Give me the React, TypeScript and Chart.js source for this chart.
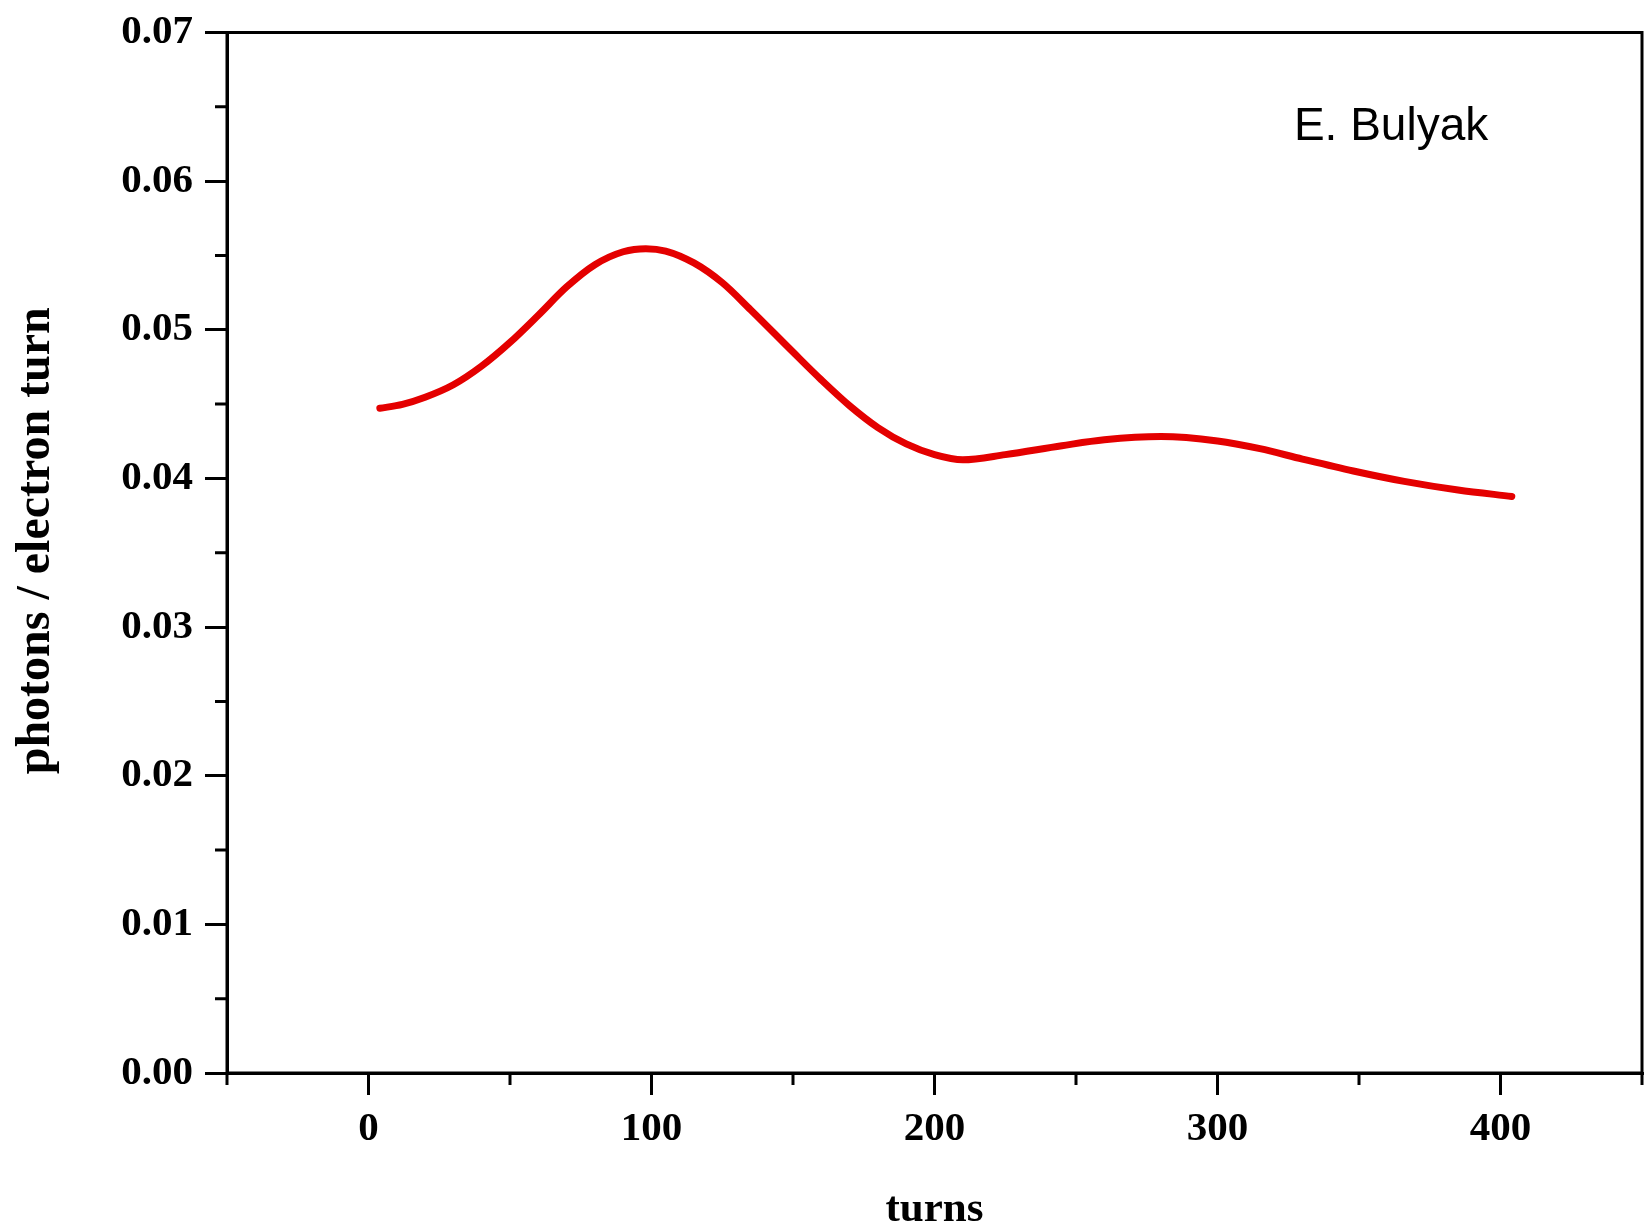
import React, { useEffect, useRef } from 'react';
import { Chart, registerables } from 'chart.js';

Chart.register(...registerables);

const turns = [4, 12, 20, 30, 40, 50, 60, 70, 80, 90, 98, 105, 115, 125, 135, 150, 160, 170, 180, 190, 200, 210, 225, 245, 260, 280, 300, 315, 330, 348, 366, 385, 404];
const photons = [0.04472, 0.04498, 0.04546, 0.0463, 0.04756, 0.04915, 0.05098, 0.05288, 0.05438, 0.05525, 0.05546, 0.0553, 0.0545, 0.05317, 0.05135, 0.0485, 0.04663, 0.04489, 0.04342, 0.04232, 0.0416, 0.04125, 0.0416, 0.0422, 0.0426, 0.04282, 0.04252, 0.042, 0.0413, 0.0405, 0.0398, 0.03922, 0.03879];

const xMajorTicks = [0, 100, 200, 300, 400];
const xMinorTicks = [-50, 50, 150, 250, 350, 450];
const yMajorTicks = [0, 0.01, 0.02, 0.03, 0.04, 0.05, 0.06, 0.07];
const yMinorTicks = [0.005, 0.015, 0.025, 0.035, 0.045, 0.055, 0.065];

const xTitle = 'turns';
const yTitle = '  photons / electron turn';
const annotationText = 'E. Bulyak';
const annotationX = 327;
const annotationY = 0.0636;

const SERIF = '"Liberation Serif", "DejaVu Serif", serif';

const framePlugin = {
  id: 'frame',
  afterDraw(chart: any) {
    const { ctx, chartArea: a, scales } = chart;
    ctx.save();
    ctx.strokeStyle = '#000';
    ctx.lineWidth = 3;
    ctx.strokeRect(a.left, a.top, a.right - a.left, a.bottom - a.top);
    ctx.beginPath();
    xMinorTicks.forEach((v) => {
      const px = scales.x.getPixelForValue(v);
      ctx.moveTo(px, a.bottom);
      ctx.lineTo(px, a.bottom + 12);
    });
    yMinorTicks.forEach((v) => {
      const py = scales.y.getPixelForValue(v);
      ctx.moveTo(a.left, py);
      ctx.lineTo(a.left - 12, py);
    });
    ctx.stroke();
    ctx.font = '46px "Liberation Sans", Arial, sans-serif';
    ctx.fillStyle = '#000';
    ctx.textAlign = 'left';
    ctx.textBaseline = 'middle';
    ctx.fillText(annotationText, scales.x.getPixelForValue(annotationX), scales.y.getPixelForValue(annotationY));
    ctx.restore();
  },
};

export default function App() {
  const canvasRef = useRef<HTMLCanvasElement | null>(null);

  useEffect(() => {
    if (!canvasRef.current) return;
    const chart = new Chart(canvasRef.current, {
      type: 'line',
      data: {
        datasets: [
          {
            data: turns.map((t, i) => ({ x: t, y: photons[i] })),
            borderColor: 'rgb(228,0,0)',
            borderWidth: 7,
            pointRadius: 0,
            cubicInterpolationMode: 'monotone',
            borderCapStyle: 'round',
            borderJoinStyle: 'round',
            fill: false,
          },
        ],
      },
      options: {
        animation: false,
        responsive: true,
        maintainAspectRatio: false,
        layout: { padding: { top: 26, right: 6, left: 0, bottom: 0 } },
        plugins: {
          legend: { display: false },
          tooltip: { enabled: false },
          title: { display: false },
        },
        scales: {
          x: {
            type: 'linear',
            min: -50,
            max: 450,
            afterBuildTicks: (scale: any) => {
              scale.ticks = xMajorTicks.map((v) => ({ value: v }));
            },
            afterFit: (scale: any) => {
              scale.height = 155;
            },
            grid: {
              drawOnChartArea: false,
              drawTicks: true,
              tickLength: 22,
              color: '#000',
              lineWidth: 3,
            },
            border: { display: true, color: '#000', width: 3 },
            ticks: {
              color: '#000',
              padding: 14,
              maxRotation: 0,
              autoSkip: false,
              font: { family: SERIF, size: 41, weight: 'bold', lineHeight: 1 },
              callback: (v: any) => String(v),
            },
            title: {
              display: true,
              text: xTitle,
              color: '#000',
              font: { family: SERIF, size: 43, weight: 'bold' },
              padding: { top: 0, bottom: -8 },
            },
          },
          y: {
            type: 'linear',
            min: 0,
            max: 0.07,
            afterBuildTicks: (scale: any) => {
              scale.ticks = yMajorTicks.map((v) => ({ value: v }));
            },
            afterFit: (scale: any) => {
              scale.width = 227;
            },
            grid: {
              drawOnChartArea: false,
              drawTicks: true,
              tickLength: 22,
              color: '#000',
              lineWidth: 3,
            },
            border: { display: true, color: '#000', width: 3 },
            ticks: {
              color: '#000',
              padding: 12,
              autoSkip: false,
              font: { family: SERIF, size: 41, weight: 'bold', lineHeight: 1 },
              callback: (v: any) => Number(v).toFixed(2),
            },
            title: {
              display: true,
              text: yTitle,
              color: '#000',
              font: { family: SERIF, size: 48, weight: 'bold' },
              padding: { top: 8, bottom: 0 },
            },
          },
        },
      },
      plugins: [framePlugin],
    } as any);
    return () => chart.destroy();
  }, []);

  return (
    <div style={{ position: 'absolute', left: 0, top: 0, width: 1648, height: 1228, background: '#fff' }}>
      <canvas ref={canvasRef} />
    </div>
  );
}
